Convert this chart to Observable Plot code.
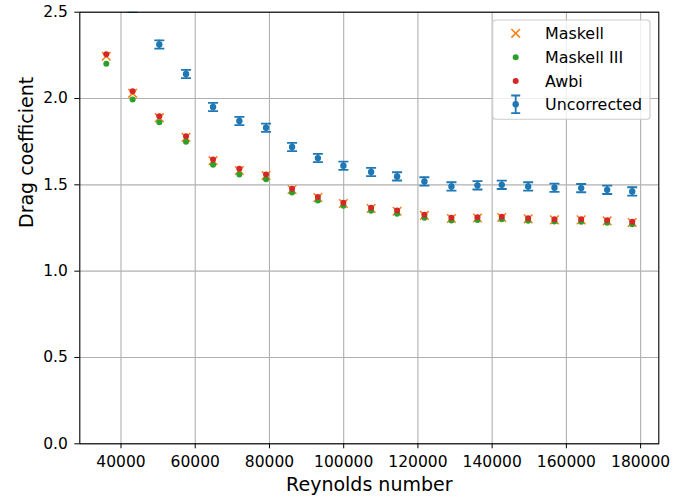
<!DOCTYPE html>
<html>
<head>
<meta charset="utf-8">
<script src="https://cdn.jsdelivr.net/npm/d3@7"></script>
<script src="https://cdn.jsdelivr.net/npm/@observablehq/plot@0.6"></script>
<style>
  html, body { margin: 0; padding: 0; background: #fff; }
  #chart { width: 684px; height: 501px; }
</style>
</head>
<body>
<div id="chart"></div>
<script>
// ---- data ----
const reynolds = [36040, 43130, 50320, 57520, 64800, 71890, 79080, 86090, 93050, 99920,
  107390, 114390, 121750, 129030, 136040, 142590, 149700, 156790, 163990, 170990, 177740];
const maskell = [2.245, 2.030, 1.889, 1.775, 1.640, 1.583, 1.554, 1.473, 1.426, 1.392,
  1.363, 1.347, 1.323, 1.305, 1.308, 1.311, 1.303, 1.297, 1.297, 1.291, 1.282];
const maskellIII = [2.202, 1.995, 1.862, 1.750, 1.616, 1.560, 1.533, 1.455, 1.410, 1.379,
  1.350, 1.332, 1.310, 1.294, 1.297, 1.300, 1.292, 1.287, 1.286, 1.280, 1.272];
const awbi = [2.256, 2.042, 1.898, 1.782, 1.647, 1.593, 1.560, 1.478, 1.430, 1.396,
  1.367, 1.351, 1.327, 1.309, 1.312, 1.315, 1.307, 1.301, 1.301, 1.295, 1.286];
const uncorrected = [2.800, 2.525, 2.313, 2.142, 1.951, 1.870, 1.831, 1.719, 1.655, 1.611,
  1.574, 1.549, 1.520, 1.491, 1.497, 1.500, 1.491, 1.483, 1.481, 1.471, 1.462];
const uncorrectedErr = [0.024, 0.024, 0.024, 0.024, 0.024, 0.024, 0.024, 0.024, 0.024, 0.024,
  0.024, 0.024, 0.024, 0.024, 0.024, 0.024, 0.024, 0.024, 0.024, 0.024, 0.024];

const xTicks = [40000, 60000, 80000, 100000, 120000, 140000, 160000, 180000];
const yTicks = [0, 0.5, 1.0, 1.5, 2.0, 2.5];
const xDomain = [28900, 184900];
const yDomain = [0, 2.5];

const seriesNames = ["Maskell", "Maskell III", "Awbi", "Uncorrected"];
const seriesColors = ["#ff7f0e", "#2ca02c", "#d62728", "#1f77b4"];
const xLabel = "Reynolds number";
const yLabel = "Drag coefficient";

// ---- table built from the arrays ----
const rows = reynolds.map((re, i) => ({
  re,
  maskell: maskell[i],
  maskellIII: maskellIII[i],
  awbi: awbi[i],
  unc: uncorrected[i],
  lo: uncorrected[i] - uncorrectedErr[i],
  hi: uncorrected[i] + uncorrectedErr[i]
}));

// custom marker shapes
const timesSymbol = {
  draw(ctx, size) {
    const r = Math.sqrt(size / Math.PI);
    ctx.moveTo(-r, -r); ctx.lineTo(r, r);
    ctx.moveTo(-r, r); ctx.lineTo(r, -r);
  }
};
const capSymbol = {
  draw(ctx, size) {
    const r = Math.sqrt(size / Math.PI);
    ctx.moveTo(-r, 0); ctx.lineTo(r, 0);
  }
};

const FONT = "'DejaVu Sans', 'Liberation Sans', sans-serif";

const plot = Plot.plot({
  width: 684,
  height: 501,
  marginLeft: 79.3,
  marginRight: 25.7,
  marginTop: 11.7,
  marginBottom: 57.7,
  style: { fontFamily: FONT, fontSize: "15.5px", color: "black", background: "white", overflow: "visible" },
  x: { domain: xDomain, label: null },
  y: { domain: yDomain, label: null },
  marks: [
    Plot.gridX(xTicks, { stroke: "#b0b0b0", strokeOpacity: 1, strokeWidth: 1.1 }),
    Plot.gridY(yTicks, { stroke: "#b0b0b0", strokeOpacity: 1, strokeWidth: 1.1 }),
    Plot.axisX({ ticks: xTicks, tickSize: 5, tickPadding: 7, tickFormat: d => String(d), fontSize: 15.5, label: null, stroke: "black" }),
    Plot.axisY({ ticks: yTicks, tickSize: 5, tickPadding: 7, tickFormat: d => d.toFixed(1), fontSize: 15.5, label: null, stroke: "black" }),
    // Maskell
    Plot.dot(rows, { x: "re", y: "maskell", symbol: timesSymbol, r: 4.3, stroke: seriesColors[0], fill: "none", strokeWidth: 1.5, clip: true }),
    // Maskell III
    Plot.dot(rows, { x: "re", y: "maskellIII", r: 3, fill: seriesColors[1], stroke: "none", clip: true }),
    // Awbi
    Plot.dot(rows, { x: "re", y: "awbi", r: 3, fill: seriesColors[2], stroke: "none", clip: true }),
    // Uncorrected with error bars
    Plot.ruleX(rows, { x: "re", y1: "lo", y2: "hi", stroke: seriesColors[3], strokeWidth: 1.8, clip: true }),
    Plot.dot(rows, { x: "re", y: "lo", symbol: capSymbol, r: 5, stroke: seriesColors[3], fill: "none", strokeWidth: 1.8, clip: true }),
    Plot.dot(rows, { x: "re", y: "hi", symbol: capSymbol, r: 5, stroke: seriesColors[3], fill: "none", strokeWidth: 1.8, clip: true }),
    Plot.dot(rows, { x: "re", y: "unc", r: 3.2, fill: seriesColors[3], stroke: "none", clip: true }),
    Plot.frame({ stroke: "black", strokeWidth: 1.1 }),
    Plot.text([xLabel], { frameAnchor: "bottom", dy: 47, lineAnchor: "bottom", fontSize: 19, fill: "black" }),
    Plot.text([yLabel], { frameAnchor: "left", dx: -47, rotate: -90, lineAnchor: "bottom", fontSize: 19, fill: "black" })
  ]
});

document.getElementById("chart").appendChild(plot);

// ---- legend (inside the axes, upper right) ----
const svg = d3.select(plot);
const lg = svg.append("g")
  .attr("font-family", FONT)
  .attr("font-size", 15.9)
  .attr("text-anchor", "start");
lg.append("rect")
  .attr("x", 492.7).attr("y", 20).attr("width", 157.3).attr("height", 99.3)
  .attr("rx", 3).attr("ry", 3)
  .attr("fill", "white").attr("fill-opacity", 0.8)
  .attr("stroke", "#cccccc").attr("stroke-width", 1.1);

const mx = 515.7, tx = 545;
const rowY = [33.3, 57.3, 81, 104.3];
// Maskell: X
lg.append("path")
  .attr("d", `M${mx-4.3},${rowY[0]-4.3}L${mx+4.3},${rowY[0]+4.3}M${mx-4.3},${rowY[0]+4.3}L${mx+4.3},${rowY[0]-4.3}`)
  .attr("stroke", seriesColors[0]).attr("stroke-width", 1.5).attr("fill", "none");
// Maskell III, Awbi: dots
lg.append("circle").attr("cx", mx).attr("cy", rowY[1]).attr("r", 3).attr("fill", seriesColors[1]);
lg.append("circle").attr("cx", mx).attr("cy", rowY[2]).attr("r", 3).attr("fill", seriesColors[2]);
// Uncorrected: errorbar glyph
const ey = rowY[3];
lg.append("path")
  .attr("d", `M${mx},${ey-8.8}L${mx},${ey+8.8}M${mx-4.5},${ey-8.8}L${mx+4.5},${ey-8.8}M${mx-4.5},${ey+8.8}L${mx+4.5},${ey+8.8}`)
  .attr("stroke", seriesColors[3]).attr("stroke-width", 1.8).attr("fill", "none");
lg.append("circle").attr("cx", mx).attr("cy", ey).attr("r", 3.2).attr("fill", seriesColors[3]);

seriesNames.forEach((name, i) => {
  lg.append("text")
    .attr("x", tx).attr("y", rowY[i]).attr("dy", "0.36em")
    .attr("text-anchor", "start")
    .attr("fill", "black")
    .text(name);
});
</script>
</body>
</html>
